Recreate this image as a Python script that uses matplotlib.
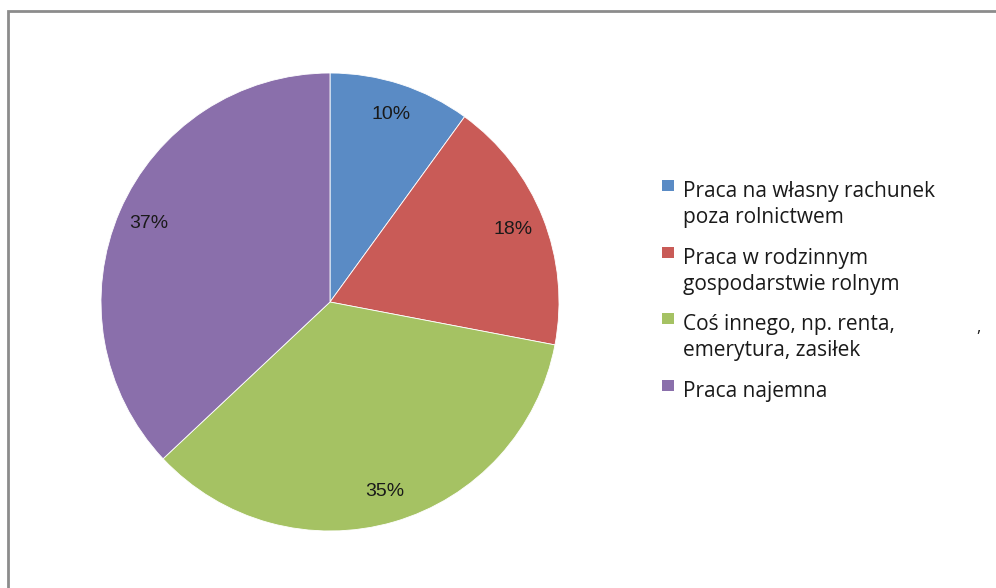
import matplotlib
matplotlib.use('Agg')
import matplotlib.pyplot as plt
from matplotlib.patches import Rectangle

# data
labels = ['Praca na własny rachunek\npoza rolnictwem',
          'Praca w rodzinnym\ngospodarstwie rolnym',
          'Coś innego, np. renta,\nemerytura, zasiłek',
          'Praca najemna']
values = [10, 18, 35, 37]
colors = ['#5a8bc5', '#c95b57', '#a5c263', '#8a6fab']

W, H = 996, 588
fig = plt.figure(figsize=(W / 100, H / 100), dpi=100)
plt.rcParams['font.family'] = ['Open Sans', 'DejaVu Sans']

# gray frame (right/bottom edges fall outside the image)
fig.patches.append(Rectangle((8 / W, -0.1), 1.2, (H - 11) / H + 0.1,
                             transform=fig.transFigure, fill=False,
                             edgecolor='#8c8c8c', linewidth=2))

cx, cy, r = 330, 302, 229
ax = fig.add_axes([(cx - r) / W, (H - cy - r) / H, 2 * r / W, 2 * r / H])
wedges, texts, autotexts = ax.pie(values, colors=colors, startangle=90, counterclock=False,
                                  autopct='%d%%', pctdistance=0.86,
                                  wedgeprops=dict(edgecolor='white', linewidth=0.6),
                                  textprops=dict(fontsize=14, color='#1a1a1a',
                                                 family=['Liberation Sans', 'DejaVu Sans']))
ax.set_xlim(-1, 1)
ax.set_ylim(-1, 1)
ax.set_aspect('equal')
ax.axis('off')

# legend drawn by hand so the square sits on the first line
base = 197      # baseline of first line, px from top
line_h = 26
gap = 14.7
for lab, col in zip(labels, colors):
    fig.patches.append(Rectangle((662 / W, 1 - (base - 6) / H), 12 / W, 11 / H,
                                 transform=fig.transFigure, facecolor=col, edgecolor='none'))
    lines = lab.split('\n')
    for j, ln in enumerate(lines):
        fig.text(683 / W, 1 - (base + j * line_h) / H, ln, fontsize=15, color='#1a1a1a',
                 va='baseline', ha='left')
    base += len(lines) * line_h + gap

fig.text(978 / W, 1 - 328 / H, ',', fontsize=12, color='#1a1a1a', ha='center', va='center')

fig.savefig('out.png', dpi=100)
